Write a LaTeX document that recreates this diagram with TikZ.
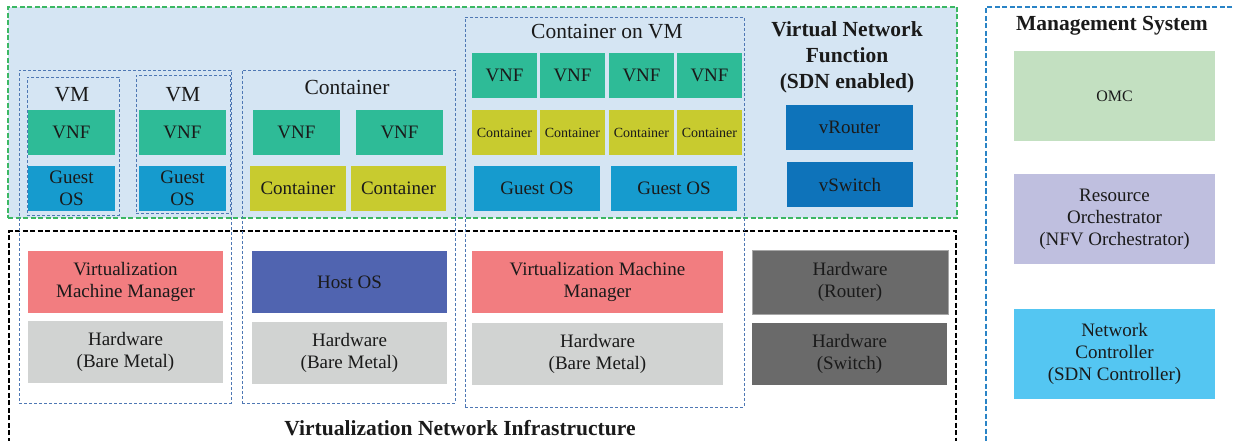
\documentclass[tikz,border=0pt]{standalone}
\usepackage{fontspec}
\setmainfont{Liberation Serif}
\usetikzlibrary{fit}
\definecolor{bgblue}{HTML}{D5E5F3}
\definecolor{greendash}{HTML}{3CB863}
\definecolor{framedash}{HTML}{4F78B4}
\definecolor{mgmtdash}{HTML}{2A84C6}
\definecolor{vnfc}{HTML}{2EBB97}
\definecolor{guestc}{HTML}{169BCE}
\definecolor{contc}{HTML}{C8CB2F}
\definecolor{vrc}{HTML}{0E73BA}
\definecolor{vmmc}{HTML}{F27D80}
\definecolor{hostc}{HTML}{5064B0}
\definecolor{hwc}{HTML}{D1D3D2}
\definecolor{hwdark}{HTML}{6A6A6A}
\definecolor{omcc}{HTML}{C3E0C1}
\definecolor{orchc}{HTML}{BFBFDF}
\definecolor{ctrlc}{HTML}{54C6F2}
\definecolor{txt}{HTML}{1A1A1A}
\newcommand{\bodyf}{\fontsize{19}{22}\selectfont}
\newcommand{\smallf}{\fontsize{14}{16}\selectfont}
\newcommand{\titlef}{\fontsize{21.5}{26}\selectfont}
\newcommand{\boldf}{\fontsize{21.5}{26}\selectfont\bfseries}
\tikzset{
  box/.style={inner sep=0pt, outer sep=0pt, align=center, text=txt, font=\bodyf},
  frame/.style={draw=framedash, line width=0.8pt, dash pattern=on 3pt off 2pt, inner sep=0pt, outer sep=0pt},
  lbl/.style={inner sep=0pt, align=center, text=txt},
}
% \bx{name}{style}{x1}{y1}{x2}{y2}{text}
\newcommand{\bx}[7]{%
  \node[box,#2,minimum width={(#5-#3)*1pt},minimum height={(#6-#4)*1pt}] (#1) at ({(#3+#5)/2},{(#4+#6)/2}) {#7};}
\begin{document}
\begin{tikzpicture}[x=1pt,y=-1pt]
\clip (0,0) rectangle (1233,441);
\fill[white] (0,0) rectangle (1233,441);
% big areas
\node[fill=bgblue, draw=greendash, line width=1.6pt, dash pattern=on 5pt off 2.5pt, inner sep=0pt, fit={(8,7) (957,218)}] (vnfarea) {};
\draw[black, line width=1.6pt, dash pattern=on 5pt off 2.5pt] (9,450) -- (9,231) -- (956,231) -- (956,450);
\node[draw=mgmtdash, line width=1.4pt, dash pattern=on 5pt off 2.5pt, inner sep=0pt, fit={(986,7) (1245,455)}] (mgmtarea) {};
% frames
\node[frame, fit={(19,70) (231,403)}] (vmgroup) {};
\node[frame, fit={(27,77) (119,215)}] (vm1) {};
\node[frame, fit={(136,75) (230,213)}] (vm2) {};
\node[frame, fit={(242,70) (455,403)}] (contgroup) {};
\node[frame, fit={(465,17) (744,407)}] (covgroup) {};
% labels
\node[lbl, font=\titlef] (vm1l) at (72,95) {VM};
\node[lbl, font=\titlef] (vm2l) at (183,95) {VM};
\node[lbl, font=\titlef] (contl) at (347,87) {Container};
\node[lbl, font=\titlef] (covl) at (607,32) {Container on VM};
\node[lbl, font=\boldf] (vnftitle) at (847,57) {Virtual Network\\Function\\(SDN enabled)};
\node[lbl, font=\boldf] (vnitl) at (460,428) {Virtualization Network Infrastructure};
\node[lbl, font=\boldf] (mgmtl) at (1112,26) {Management System};
% VM boxes
\bx{vm1vnf}{fill=vnfc}{28}{110}{115}{155}{VNF}
\bx{vm2vnf}{fill=vnfc}{139}{110}{226}{155}{VNF}
\bx{vm1os}{fill=guestc}{28}{166}{115}{211}{Guest\\OS}
\bx{vm2os}{fill=guestc}{139}{166}{226}{211}{Guest\\OS}
% container boxes
\bx{c1vnf}{fill=vnfc}{253}{110}{340}{155}{VNF}
\bx{c2vnf}{fill=vnfc}{356}{110}{443}{155}{VNF}
\bx{c1}{fill=contc}{250}{166}{346}{211}{Container}
\bx{c2}{fill=contc}{351}{166}{446}{211}{Container}
% container on VM
\bx{cv1vnf}{fill=vnfc}{472}{53}{537}{98}{VNF}
\bx{cv2vnf}{fill=vnfc}{540}{53}{605}{98}{VNF}
\bx{cv3vnf}{fill=vnfc}{609}{53}{674}{98}{VNF}
\bx{cv4vnf}{fill=vnfc}{677}{53}{742}{98}{VNF}
\bx{cv1c}{fill=contc,font=\smallf}{472}{110}{537}{155}{Container}
\bx{cv2c}{fill=contc,font=\smallf}{540}{110}{605}{155}{Container}
\bx{cv3c}{fill=contc,font=\smallf}{609}{110}{674}{155}{Container}
\bx{cv4c}{fill=contc,font=\smallf}{677}{110}{742}{155}{Container}
\bx{cvos1}{fill=guestc}{474}{166}{600}{211}{Guest OS}
\bx{cvos2}{fill=guestc}{611}{166}{737}{211}{Guest OS}
% SDN
\bx{vrouter}{fill=vrc}{786}{105}{913}{150}{vRouter}
\bx{vswitch}{fill=vrc}{787}{162}{913}{207}{vSwitch}
% infrastructure
\bx{vmm1}{fill=vmmc}{28}{251}{223}{313}{Virtualization\\Machine Manager}
\bx{hw1}{fill=hwc}{28}{321}{223}{383}{Hardware\\(Bare Metal)}
\bx{hostos}{fill=hostc}{252}{251}{447}{313}{Host OS}
\bx{hw2}{fill=hwc}{252}{322}{447}{384}{Hardware\\(Bare Metal)}
\bx{vmm3}{fill=vmmc}{472}{251}{723}{313}{Virtualization Machine\\Manager}
\bx{hw3}{fill=hwc}{472}{323}{723}{385}{Hardware\\(Bare Metal)}
\bx{hwr}{fill=hwdark,draw=gray!70,line width=0.6pt}{752}{250}{948}{314}{Hardware\\(Router)}
\bx{hws}{fill=hwdark}{752}{323}{947}{385}{Hardware\\(Switch)}
% management
\bx{omc}{fill=omcc,font=\fontsize{16}{19}\selectfont}{1014}{51}{1215}{141}{OMC}
\bx{orch}{fill=orchc}{1014}{174}{1215}{264}{Resource\\Orchestrator\\(NFV Orchestrator)}
\bx{ctrl}{fill=ctrlc}{1014}{309}{1215}{399}{Network\\Controller\\(SDN Controller)}
\end{tikzpicture}
\end{document}
